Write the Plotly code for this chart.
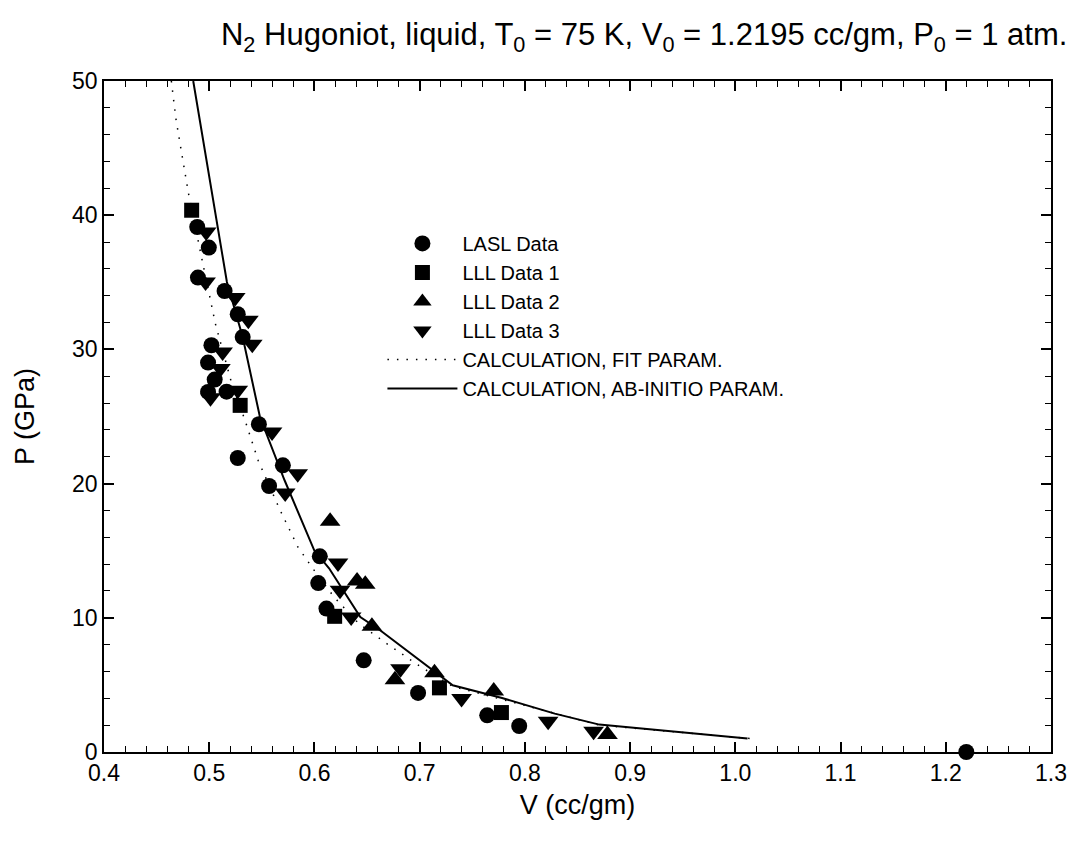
import plotly.graph_objects as go

# LASL data
lasl_v = [0.4886, 0.4996, 0.4893, 0.5146, 0.5271, 0.5318, 0.5021, 0.4989, 0.5052, 0.4989,
          0.5165, 0.5472, 0.5271, 0.5700, 0.5569, 0.6051, 0.6036, 0.6114, 0.6468, 0.6985,
          0.7642, 0.7946, 1.2195]
lasl_p = [39.12, 37.59, 35.35, 34.35, 32.62, 30.92, 30.31, 29.02, 27.75, 26.83,
          26.85, 24.42, 21.91, 21.36, 19.82, 14.58, 12.59, 10.69, 6.83, 4.40,
          2.73, 1.94, 0.0]

# LLL data 1
lll1_v = [0.4833, 0.5294, 0.6192, 0.7188, 0.7777]
lll1_p = [40.37, 25.83, 10.11, 4.78, 2.94]

# LLL data 2
lll2_v = [0.6149, 0.6405, 0.6483, 0.6546, 0.6765, 0.7141, 0.7704, 0.8785]
lll2_p = [17.19, 12.74, 12.50, 9.37, 5.39, 5.90, 4.55, 1.30]

# LLL data 3
lll3_v = [0.4971, 0.4965, 0.5247, 0.5372, 0.5409, 0.5127, 0.5106, 0.5271, 0.5012, 0.5597,
          0.5841, 0.5722, 0.6224, 0.6243, 0.6349, 0.6818, 0.7398, 0.8221, 0.8653]
lll3_p = [38.75, 35.02, 33.86, 32.17, 30.38, 29.81, 28.57, 26.95, 26.40, 23.85,
          20.74, 19.30, 14.08, 12.05, 10.06, 6.21, 3.98, 2.29, 1.54]

# Calculation, fit parameters (dotted)
fit_v = [0.4640, 0.4683, 0.4745, 0.4808, 0.4942, 0.5059, 0.5209, 0.5341, 0.5466, 0.5669,
         0.5841, 0.5982, 0.6186, 0.6421, 0.6687, 0.7000, 0.7310, 0.7800, 0.8710, 1.0190]
fit_p = [50.0, 47.2, 44.3, 41.4, 36.3, 31.9, 27.6, 24.7, 21.7, 18.1,
         15.3, 13.7, 11.55, 9.57, 8.08, 6.40, 4.90, 3.90, 2.00, 0.97]

# Calculation, ab-initio parameters (solid)
abi_v = [0.4848, 0.5168, 0.5318, 0.5482, 0.5716, 0.5998, 0.6139, 0.6436, 0.6624, 0.7126,
         0.7314, 0.7783, 0.8284, 0.8707, 1.0116]
abi_p = [50.0, 35.02, 30.92, 24.96, 20.25, 15.03, 13.69, 10.06, 9.07, 6.09,
         4.97, 4.02, 2.86, 2.04, 1.0]

FONT = "Liberation Sans, Arial, sans-serif"

fig = go.Figure()
fig.add_trace(go.Scatter(x=lasl_v, y=lasl_p, mode="markers", name="LASL Data",
                         marker=dict(symbol="circle", color="black", size=16, line=dict(width=0)),
                         cliponaxis=False))
fig.add_trace(go.Scatter(x=lll1_v, y=lll1_p, mode="markers", name="LLL Data 1",
                         marker=dict(symbol="square", color="black", size=15, line=dict(width=0))))
fig.add_trace(go.Scatter(x=lll2_v, y=lll2_p, mode="markers", name="LLL Data 2",
                         marker=dict(symbol="triangle-up", color="black", size=18, line=dict(width=0))))
fig.add_trace(go.Scatter(x=lll3_v, y=lll3_p, mode="markers", name="LLL Data 3",
                         marker=dict(symbol="triangle-down", color="black", size=18, line=dict(width=0))))
fig.add_trace(go.Scatter(x=fit_v, y=fit_p, mode="lines", name="CALCULATION, FIT PARAM.",
                         line=dict(color="black", width=1.5, dash="1.5px,8px")))
fig.add_trace(go.Scatter(x=abi_v, y=abi_p, mode="lines", name="CALCULATION, AB-INITIO PARAM.",
                         line=dict(color="black", width=2)))

axis_common = dict(
    showgrid=False, zeroline=False, showline=True, linecolor="black", linewidth=1.5,
    mirror="ticks", ticks="inside", tickcolor="black", tickwidth=1.5, ticklen=10,
    tickfont=dict(family=FONT, size=23, color="black"),
)

fig.update_xaxes(range=[0.4, 1.3], dtick=0.1, tick0=0.4, tickformat=".1f",
                 minor=dict(dtick=0.02, ticks="inside", ticklen=6, tickcolor="black", tickwidth=1.2),
                 title=dict(text="V (cc/gm)", font=dict(family=FONT, size=27, color="black"), standoff=10),
                 **axis_common)
fig.update_yaxes(range=[0, 50], dtick=10, tick0=0,
                 minor=dict(dtick=2, ticks="inside", ticklen=6, tickcolor="black", tickwidth=1.2),
                 title=dict(text="P (GPa)", font=dict(family=FONT, size=27, color="black"), standoff=30),
                 **axis_common)

fig.update_layout(
    width=1071, height=832,
    margin=dict(l=96, r=17, t=73, b=88),
    plot_bgcolor="white", paper_bgcolor="white",
    font=dict(family=FONT, color="black"),
    title=dict(
        text="N<sub>2</sub> Hugoniot, liquid, T<sub>0</sub> = 75 K, V<sub>0</sub> = 1.2195 cc/gm, P<sub>0</sub> = 1 atm.",
        x=0.594, xanchor="center", y=0.968, yanchor="middle",
        font=dict(family=FONT, size=31, color="black")),
    legend=dict(x=0.294, y=0.787, xanchor="left", yanchor="top",
                bgcolor="rgba(0,0,0,0)", borderwidth=0,
                font=dict(family=FONT, size=20, color="black"),
                itemwidth=70, tracegroupgap=0),
    showlegend=True,
)

fig.write_html("out.html")
